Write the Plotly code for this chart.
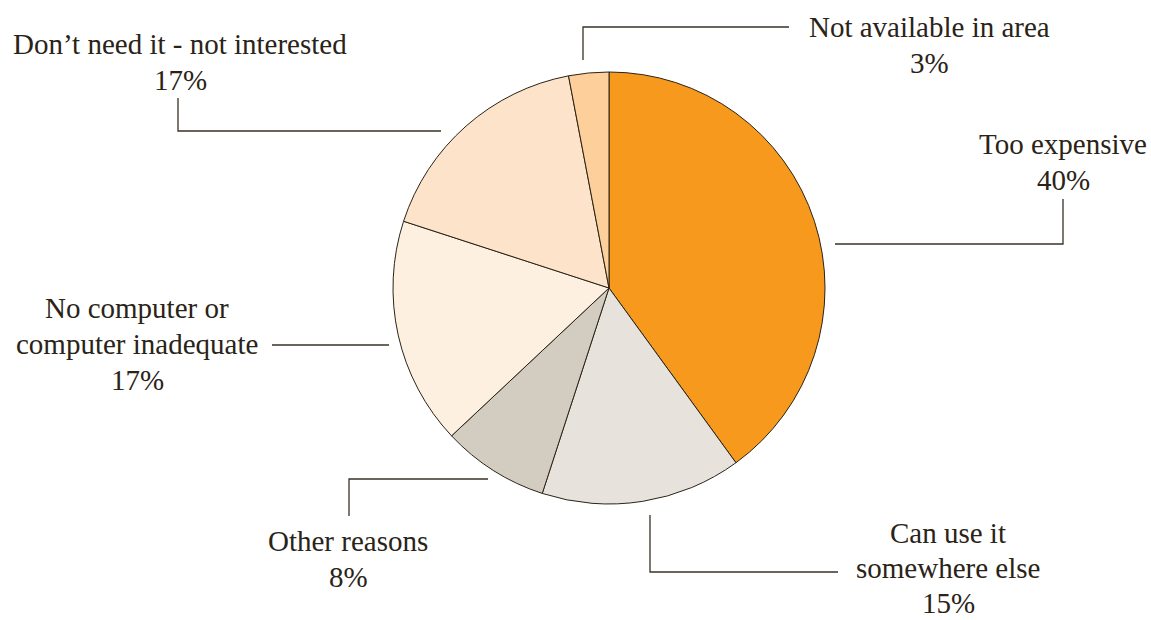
import plotly.graph_objects as go

W, H = 1151, 620

# Reasons for not having broadband, share of respondents (%)
categories = [
    "Too expensive",
    "Can use it somewhere else",
    "Other reasons",
    "No computer or computer inadequate",
    "Don’t need it - not interested",
    "Not available in area",
]
values = [40, 15, 8, 17, 17, 3]
label_lines = [
    ["Too expensive"],
    ["Can use it", "somewhere else"],
    ["Other reasons"],
    ["No computer or", "computer inadequate"],
    ["Don’t need it - not interested"],
    ["Not available in area"],
]
colors = ["#F7991C", "#E7E3DC", "#D3CCC0", "#FDF0E1", "#FDE3C9", "#FDD09B"]

TEXT = "#2A2317"
LINE = "#3A3326"
FONT = "Liberation Serif, Times New Roman, serif"

# pie geometry in pixels
cx, cy, r = 609, 288, 216


def px(x):
    return x / W


def py(y):
    return 1 - y / H


fig = go.Figure(
    go.Pie(
        labels=categories,
        values=values,
        sort=False,
        direction="clockwise",
        rotation=0,
        marker=dict(colors=colors, line=dict(color=TEXT, width=1)),
        textinfo="none",
        hoverinfo="label+percent",
        showlegend=False,
        domain=dict(x=[px(cx - r), px(cx + r)], y=[py(cy + r), py(cy - r)]),
    )
)

# label placement: (text centre x, first line y, line step) and leader polyline
placements = [
    (1063, 144, 36, [(835, 244), (1063, 244), (1063, 199)]),
    (948, 533, 35, [(650, 515), (650, 572), (838, 572)]),
    (348, 541, 36, [(488, 479), (349, 479), (349, 516)]),
    (137, 308, 36, [(389, 345), (272, 345)]),
    (180, 44, 36, [(441, 131), (178, 131), (178, 98)]),
    (929, 27, 36, [(583, 60), (583, 27), (789, 27)]),
]

shapes = []
annotations = []
for lines, val, (tx, ty, step, pts) in zip(label_lines, values, placements):
    all_lines = lines + [f"{val}%"]
    for i, t in enumerate(all_lines):
        annotations.append(
            dict(
                x=px(tx), y=py(ty + i * step), xref="paper", yref="paper",
                text=t, showarrow=False, xanchor="center", yanchor="middle",
                font=dict(family=FONT, size=29, color=TEXT),
            )
        )
    path = "M " + " L ".join(f"{px(x)},{py(y)}" for x, y in pts)
    shapes.append(
        dict(type="path", path=path, xref="paper", yref="paper",
             line=dict(color=LINE, width=1.3))
    )

fig.update_layout(
    width=W, height=H,
    margin=dict(l=0, r=0, t=0, b=0),
    paper_bgcolor="white",
    plot_bgcolor="white",
    shapes=shapes,
    annotations=annotations,
)

fig.write_html("out.html")
